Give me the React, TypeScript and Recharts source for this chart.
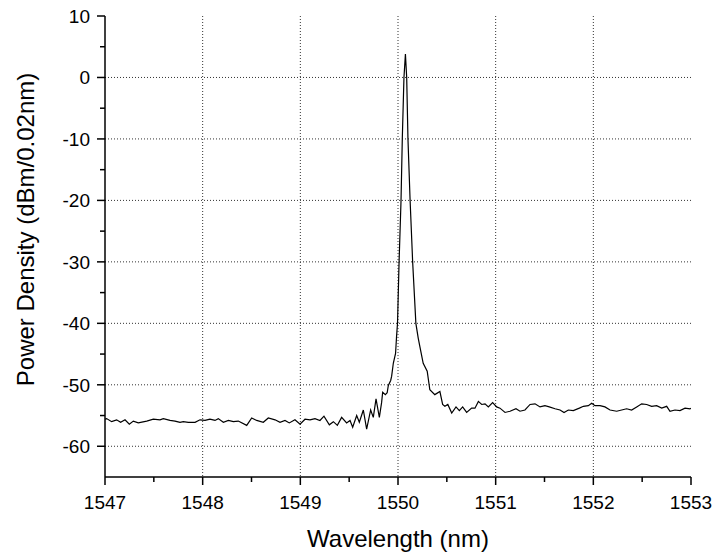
import React from 'react';
import { LineChart, Line, XAxis, YAxis, CartesianGrid, Label } from 'recharts';

// spectrum (nm, dBm/0.02nm)
const wavelength = [
    1547.0, 1547.017, 1547.068, 1547.119, 1547.16, 1547.205, 1547.249, 1547.29, 1547.341, 1547.427,
    1547.495, 1547.563, 1547.597, 1547.666, 1547.717, 1547.768, 1547.802, 1547.853, 1547.922, 1547.973,
    1548.024, 1548.075, 1548.126, 1548.16, 1548.212, 1548.263, 1548.314, 1548.365, 1548.451, 1548.502,
    1548.553, 1548.621, 1548.672, 1548.741, 1548.792, 1548.843, 1548.887, 1548.945, 1548.997, 1549.048,
    1549.099, 1549.15, 1549.201, 1549.242, 1549.297, 1549.338, 1549.379, 1549.423, 1549.474, 1549.509,
    1549.536, 1549.577, 1549.604, 1549.645, 1549.679, 1549.72, 1549.747, 1549.775, 1549.809, 1549.832,
    1549.843, 1549.87, 1549.889, 1549.901, 1549.925, 1549.935, 1549.952, 1549.975, 1549.985, 1549.995,
    1550.011, 1550.031, 1550.044, 1550.061, 1550.076, 1550.089, 1550.102, 1550.124, 1550.15, 1550.183,
    1550.207, 1550.224, 1550.258, 1550.299, 1550.326, 1550.377, 1550.429, 1550.457, 1550.48, 1550.51,
    1550.55, 1550.594, 1550.628, 1550.662, 1550.703, 1550.754, 1550.788, 1550.823, 1550.857, 1550.891,
    1550.925, 1550.969, 1551.01, 1551.044, 1551.096, 1551.147, 1551.208, 1551.249, 1551.3, 1551.352,
    1551.403, 1551.454, 1551.505, 1551.549, 1551.608, 1551.659, 1551.7, 1551.744, 1551.795, 1551.857,
    1551.898, 1551.949, 1551.983, 1552.017, 1552.068, 1552.119, 1552.171, 1552.239, 1552.29, 1552.341,
    1552.392, 1552.444, 1552.495, 1552.546, 1552.597, 1552.648, 1552.7, 1552.751, 1552.785, 1552.836,
    1552.887, 1552.939, 1552.99, 1553.0,
];

const power = [
    -55.6, -55.5, -56.0, -55.7, -56.1, -55.7, -56.4, -55.9, -56.2, -55.9,
    -55.6, -55.7, -55.5, -55.8, -55.9, -56.1, -56.0, -56.1, -56.1, -55.7,
    -55.8, -55.6, -55.8, -55.5, -56.1, -55.8, -56.0, -55.9, -56.6, -55.4,
    -55.8, -56.1, -55.4, -55.7, -56.1, -55.8, -56.2, -55.7, -56.4, -55.6,
    -55.7, -55.5, -55.8, -55.1, -56.5, -56.0, -56.6, -55.3, -56.2, -55.8,
    -56.9, -55.0, -56.1, -54.1, -57.2, -54.1, -55.3, -52.3, -55.3, -52.9,
    -51.2, -51.6, -51.3, -50.1, -49.3, -48.6, -46.5, -44.9, -42.2, -40.0,
    -30.0, -20.0, -10.0, 0.0, 3.8, 0.0, -10.0, -20.0, -30.0, -40.0,
    -42.4, -43.8, -46.5, -47.8, -50.8, -51.6, -51.1, -53.2, -53.5, -53.2,
    -54.6, -53.6, -54.2, -53.6, -54.5, -53.8, -53.8, -52.7, -53.2, -53.1,
    -53.6, -52.9, -53.6, -53.8, -54.5, -54.3, -53.9, -54.3, -54.1, -53.2,
    -53.1, -53.6, -53.4, -53.6, -53.9, -54.1, -54.5, -54.1, -54.2, -53.8,
    -53.5, -53.4, -53.0, -53.4, -53.4, -53.6, -54.1, -54.3, -54.1, -53.9,
    -54.1, -53.6, -53.1, -53.2, -53.5, -53.4, -53.8, -53.5, -54.3, -54.1,
    -54.2, -53.8, -53.9, -53.8,
];

const xMajor = [1547, 1548, 1549, 1550, 1551, 1552, 1553];
const xMinor = [1547.5, 1548.5, 1549.5, 1550.5, 1551.5, 1552.5];
const yMajor = [10, 0, -10, -20, -30, -40, -50, -60];
const yMinor = [5, -5, -15, -25, -35, -45, -55];
const xGrid = [1548, 1549, 1550, 1551, 1552];
const yGrid = [0, -10, -20, -30, -40, -50, -60];

const data = wavelength.map((w, i) => ({ w, p: power[i] }));
const xTicks = [...xMajor, ...xMinor].sort((a, b) => a - b);
const yTicks = [...yMajor, ...yMinor].sort((a, b) => b - a);

const FONT = 'Liberation Sans, Arial, sans-serif';

const XTick = ({ x, y, payload }: any) => {
    const major = xMajor.includes(payload.value);
    return (
        <g>
            <line x1={x} y1={y} x2={x} y2={y + (major ? 8 : 5)} stroke="#000" strokeWidth={1.5} />
            {major && (
                <text x={x} y={y + 25} dy="0.355em" textAnchor="middle" fontSize={19} fontFamily={FONT} fill="#000">
                    {payload.value}
                </text>
            )}
        </g>
    );
};

const YTick = ({ x, y, payload }: any) => {
    const major = yMajor.includes(payload.value);
    return (
        <g>
            <line x1={x} y1={y} x2={x - (major ? 8 : 5)} y2={y} stroke="#000" strokeWidth={1.5} />
            {major && (
                <text x={x - 15} y={y} dy="0.355em" textAnchor="end" fontSize={19} fontFamily={FONT} fill="#000">
                    {payload.value}
                </text>
            )}
        </g>
    );
};

export default function App() {
    return (
        <div style={{ position: 'absolute', left: 0, top: 0, width: 716, height: 556, background: '#fff' }}>
            <LineChart width={716} height={556} data={data} margin={{ top: 16, right: 25, left: 45, bottom: 29 }}>
                <CartesianGrid
                    stroke="#333"
                    strokeDasharray="1 2"
                    verticalValues={xGrid}
                    horizontalValues={yGrid}
                />
                <XAxis
                    dataKey="w"
                    type="number"
                    domain={[1547, 1553]}
                    ticks={xTicks}
                    interval={0}
                    height={50}
                    tickSize={0}
                    tickMargin={0}
                    tickLine={false}
                    tick={<XTick />}
                    axisLine={{ stroke: '#000', strokeWidth: 1.5 }}
                    allowDataOverflow
                >
                    <Label
                        value="Wavelength (nm)"
                        position="center"
                        dy={36}
                        style={{ fontSize: 24, fontFamily: FONT, fill: '#000' }}
                    />
                </XAxis>
                <YAxis
                    type="number"
                    domain={[-65, 10]}
                    ticks={yTicks}
                    interval={0}
                    width={60}
                    tickSize={0}
                    tickMargin={0}
                    tickLine={false}
                    tick={<YTick />}
                    axisLine={{ stroke: '#000', strokeWidth: 1.5 }}
                    allowDataOverflow
                >
                    <Label
                        value="Power Density (dBm/0.02nm)"
                        angle={-90}
                        position="center"
                        dx={-50}
                        dy={-17}
                        style={{ fontSize: 24, fontFamily: FONT, fill: '#000', textAnchor: 'middle' }}
                    />
                </YAxis>
                <Line
                    type="linear"
                    dataKey="p"
                    stroke="#000"
                    strokeWidth={1.2}
                    dot={false}
                    isAnimationActive={false}
                />
            </LineChart>
        </div>
    );
}
